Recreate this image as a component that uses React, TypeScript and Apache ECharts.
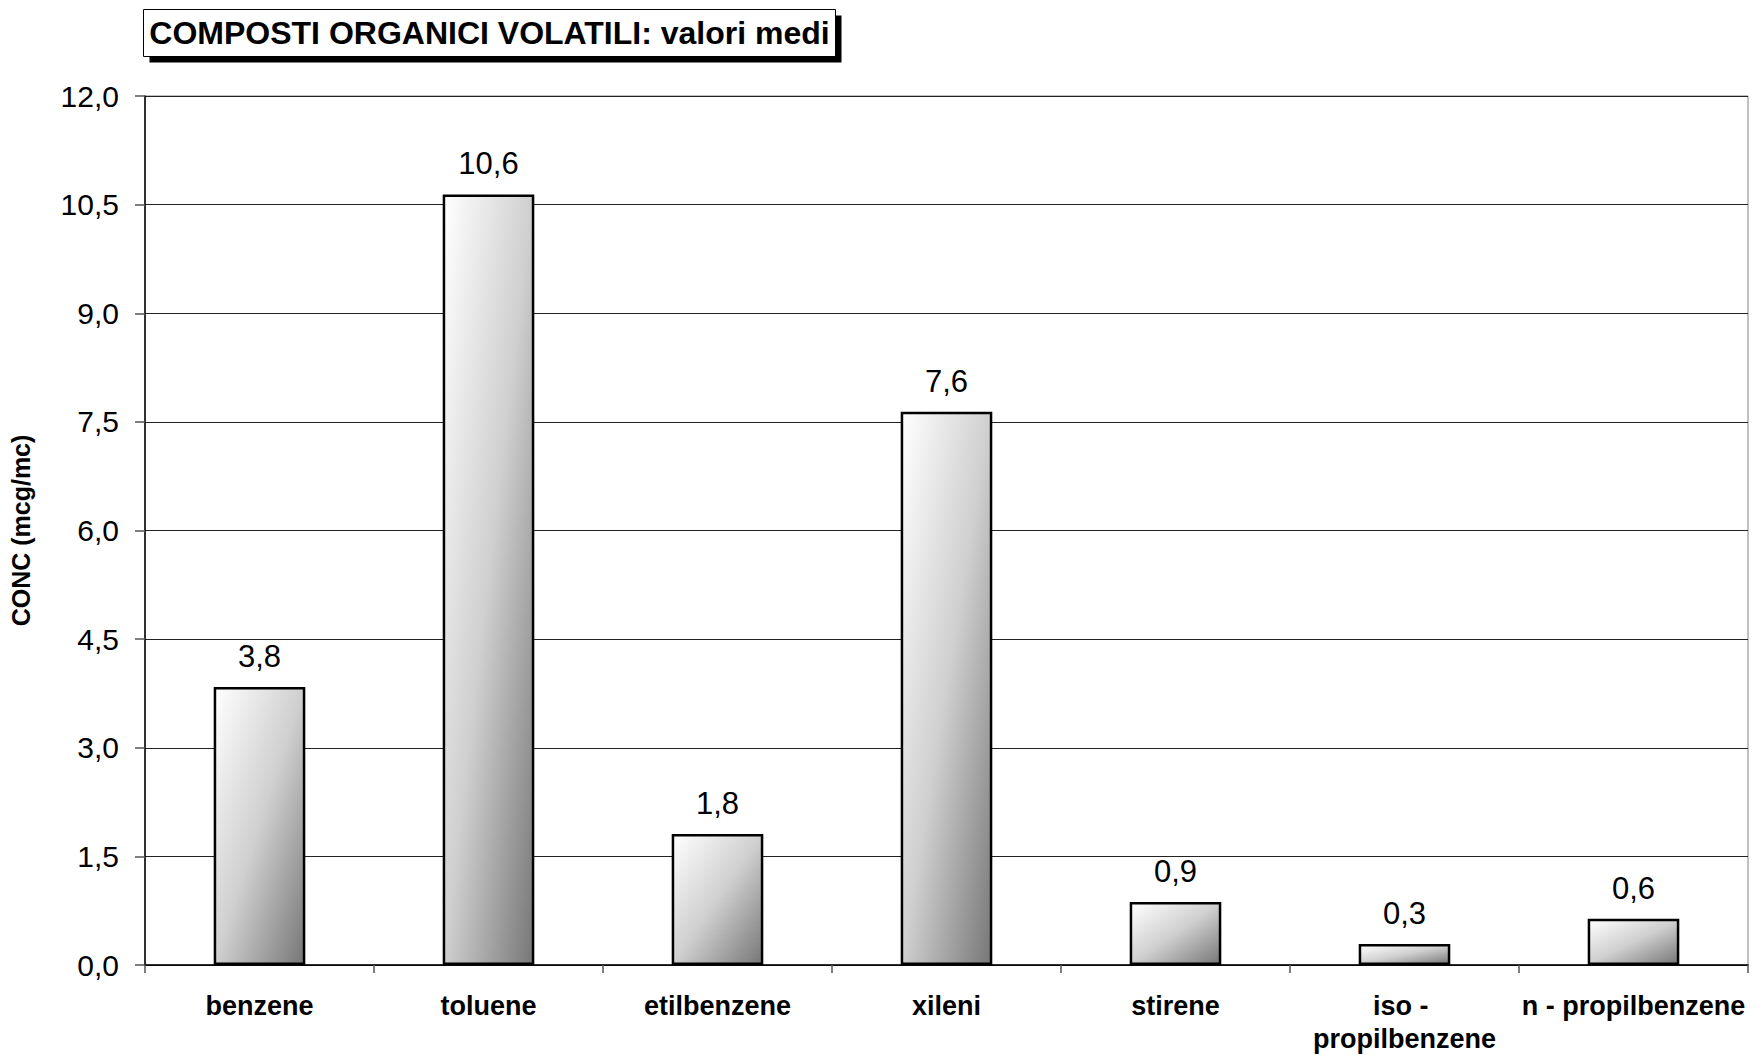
import React, { useEffect, useRef } from "react";
import * as echarts from "echarts";

// Mean concentrations of volatile organic compounds (mcg/mc)
const categories = [
  "benzene",
  "toluene",
  "etilbenzene",
  "xileni",
  "stirene",
  "iso - propilbenzene",
  "n - propilbenzene",
];
const meanValues = [3.84, 10.64, 1.81, 7.64, 0.87, 0.29, 0.64];

const titleText = "COMPOSTI ORGANICI VOLATILI: valori medi";
const yAxisName = "CONC (mcg/mc)";
const yMin = 0;
const yMax = 12;
const yStep = 1.5;

const FONT = "'Liberation Sans', Arial, sans-serif";
const fmt = (v: number) => v.toFixed(1).replace(".", ",");

export default function App() {
  const ref = useRef<HTMLDivElement>(null);

  useEffect(() => {
    if (!ref.current) return;
    const chart = echarts.init(ref.current, null, { renderer: "svg" });

    // diagonal shading: light top-left corner to grey bottom-right corner
    const barFill = new echarts.graphic.LinearGradient(0, 0, 1, 1, [
      { offset: 0, color: "#ffffff" },
      { offset: 0.5, color: "#cfcfcf" },
      { offset: 1, color: "#777777" },
    ]);

    chart.setOption({
      animation: false,
      backgroundColor: "#ffffff",
      textStyle: { fontFamily: FONT },
      grid: {
        left: 143,
        right: 10,
        top: 96,
        bottom: 87,
        show: true,
        borderColor: "#808080",
        borderWidth: 1,
        backgroundColor: "transparent",
      },
      graphic: [
        {
          type: "group",
          left: 143,
          top: 9,
          children: [
            {
              type: "rect",
              shape: { x: 6, y: 6, width: 692, height: 47 },
              style: { fill: "#000000" },
            },
            {
              type: "rect",
              shape: { x: 0, y: 0, width: 692, height: 47 },
              style: { fill: "#ffffff", stroke: "#000000", lineWidth: 1 },
            },
            {
              type: "text",
              x: 346,
              y: 23.5,
              style: {
                text: titleText,
                font: `bold 32px ${FONT}`,
                fill: "#000000",
                align: "center",
                verticalAlign: "middle",
              },
            },
          ],
        },
      ],
      xAxis: {
        type: "category",
        data: categories,
        axisLine: { show: true, lineStyle: { color: "#000000", width: 1.5 } },
        axisTick: { show: true, length: 8, lineStyle: { color: "#555555", width: 1.5 } },
        axisLabel: {
          fontFamily: FONT,
          fontSize: 27,
          fontWeight: "bold",
          color: "#000000",
          margin: 24,
          lineHeight: 33,
          width: 228,
          overflow: "break",
          interval: 0,
        },
      },
      yAxis: {
        type: "value",
        min: yMin,
        max: yMax,
        interval: yStep,
        name: yAxisName,
        nameLocation: "middle",
        nameRotate: 90,
        nameGap: 112,
        nameTextStyle: {
          fontFamily: FONT,
          fontSize: 25,
          fontWeight: "bold",
          color: "#000000",
        },
        axisLine: { show: true, lineStyle: { color: "#000000", width: 1.5 } },
        axisTick: { show: true, length: 10, lineStyle: { color: "#555555", width: 1.5 } },
        axisLabel: {
          formatter: (v: number) => fmt(v),
          fontFamily: FONT,
          fontSize: 30,
          color: "#000000",
          margin: 26,
        },
        splitLine: { show: true, lineStyle: { color: "#222222", width: 1 } },
      },
      series: [
        {
          type: "bar",
          data: meanValues,
          barWidth: "40%",
          itemStyle: {
            color: barFill,
            borderColor: "#000000",
            borderWidth: 2.5,
          },
          label: {
            show: true,
            position: "top",
            distance: 15,
            formatter: (p: any) => fmt(p.value),
            fontFamily: FONT,
            fontSize: 31,
            color: "#000000",
          },
        },
      ],
    });

    return () => chart.dispose();
  }, []);

  return (
    <div
      ref={ref}
      style={{ position: "fixed", left: 0, top: 0, width: 1758, height: 1055 }}
    />
  );
}
